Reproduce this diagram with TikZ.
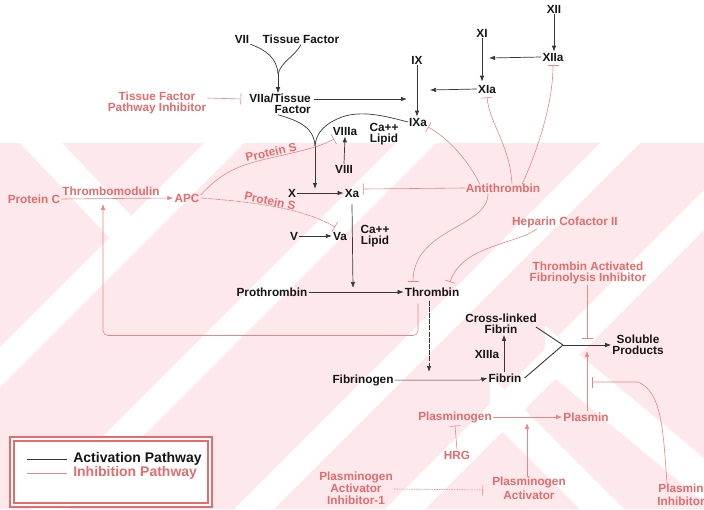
\documentclass[tikz,border=0pt]{standalone}
\usepackage{fontspec}
\setmainfont{Liberation Sans}
\usetikzlibrary{arrows.meta,calc}
\definecolor{bgpink}{RGB}{253,233,236}
\definecolor{txtred}{RGB}{228,108,108}
\definecolor{linered}{RGB}{230,135,135}
\definecolor{ink}{RGB}{22,22,22}
\definecolor{lineink}{RGB}{55,55,55}
\begin{document}
\begin{tikzpicture}[x=1pt,y=-1pt,
  lbl/.style={font=\fontsize{11.8}{10.5}\selectfont\bfseries, text=ink, inner sep=1pt, align=center},
  rlbl/.style={lbl, text=txtred},
  act/.style={draw=lineink, line width=0.7pt},
  actarr/.style={act, -{Latex[length=6pt,width=4.5pt]}},
  inh/.style={draw=linered, line width=0.6pt},
  inharr/.style={inh, -{Latex[length=6pt,width=4.5pt]}},
  inhbar/.style={inh, -{Bar[width=11pt]}},
]
\useasboundingbox (0,0) rectangle (704,509);

% ---- background band with white diagonal stripes
\fill[white] (0,0) rectangle (704,509);
\begin{scope}
  \clip (0,143) rectangle (704,509);
  \fill[bgpink] (0,143) rectangle (704,509);
  \foreach \c in {-142,50,254,405}{
    \fill[white] (\c-20,509) -- (\c+20,509) -- (\c+386,143) -- (\c+346,143) -- cycle;
  }
  \fill[white] (20,143) -- (62,143) -- (140,225) -- (118,247) -- cycle;
  \fill[white] (545,326) -- (704,458) -- (704,502) -- (545,370) -- cycle;
  \fill[white] (490,375) -- (624,509) -- (580,509) -- (490,419) -- cycle;
\end{scope}

% ---- extrinsic / intrinsic activation
\node[lbl] (XII) at (554,9) {XII};
\node[lbl] (XIIa) at (553,57) {XIIa};
\node[lbl] (XI) at (482,33) {XI};
\node[lbl] (XIa) at (487,89) {XIa};
\node[lbl] (IX) at (417,60) {IX};
\node[lbl] (IXa) at (418,122) {IXa};
\node[lbl] (VII) at (242,39) {VII};
\node[lbl] (TF) at (301,39) {Tissue Factor};
\node[lbl, anchor=east, align=right] (VIIaTF) at (312,104) {VIIa/Tissue\\Factor};
\node[rlbl] (TFPI) at (157,103) {Tissue Factor\\Pathway Inhibitor};
\node[lbl] (VIIIa) at (345,131) {VIIIa};
\node[lbl] (CaL1) at (384,134) {Ca++\\Lipid};
\node[lbl] (VIII) at (344,169) {VIII};
\node[lbl] (X) at (292,193) {X};
\node[lbl] (Xa) at (352,193) {Xa};
\node[lbl] (V) at (294,236) {V};
\node[lbl] (Va) at (340,236) {Va};
\node[lbl] (CaL2) at (375,236) {Ca++\\Lipid};
\node[lbl] (Prothrombin) at (272,292) {Prothrombin};
\node[lbl] (Thrombin) at (432,292) {Thrombin};
\node[lbl] (Fibrinogen) at (363,380) {Fibrinogen};
\node[lbl] (Fibrin) at (505,378) {Fibrin};
\node[lbl] (XLFibrin) at (501,324) {Cross-linked\\Fibrin};
\node[lbl] (XIIIa) at (487,354) {XIIIa};
\node[lbl] (Soluble) at (638,345) {Soluble\\Products};

% ---- inhibitory factors
\node[rlbl] (ProteinC) at (34,199) {Protein C};
\node[rlbl] (APC) at (187,198) {APC};
\node[rlbl] (Antithrombin) at (503,188) {Antithrombin};
\node[rlbl] (Heparin) at (565,222) {Heparin Cofactor II};
\node[rlbl] (TAFI) at (588,273) {Thrombin Activated\\Fibrinolysis Inhibitor};
\node[rlbl] (Plasminogen) at (455,417) {Plasminogen};
\node[rlbl] (Plasmin) at (586,417) {Plasmin};
\node[rlbl] (HRG) at (457,455) {HRG};
\node[rlbl, font=\fontsize{11.8}{14}\selectfont\bfseries] (PA) at (529,488) {Plasminogen\\Activator};
\node[rlbl, font=\fontsize{11.8}{12}\selectfont\bfseries] (PAI) at (356,488) {Plasminogen\\Activator\\Inhibitor-1};
\node[rlbl, font=\fontsize{11.8}{13}\selectfont\bfseries] (PlInh) at (681,495) {Plasmin\\Inhibitor};

% ---- junction points on other connectors
\coordinate (xiMid) at (489,58);
\coordinate (ixMid) at (430,90);
\coordinate (ixIn) at (407,99);
\coordinate (tfJoin) at (278,74);
\coordinate (xJoin) at (315,146);
\coordinate (xIn) at (315,189);
\coordinate (thrIn) at (353,288);
\coordinate (fibIn) at (429,372);
\coordinate (yV) at (563,345);
\coordinate (tafiBar) at (587,339);
\coordinate (plIn) at (587,351);
\coordinate (plBar) at (592,382);
\coordinate (paIn) at (527,423);
\coordinate (tmIn) at (103,204);
\coordinate (xaBar) at (363,189);
\coordinate (ixaBar) at (428,127);
\coordinate (thrBar1) at (413,282);
\coordinate (thrBar2) at (450,282);
\coordinate (viiiBar) at (334,139);
\coordinate (vaBar) at (335,227);

% ---- activation connectors
\draw[actarr] (XII.south) -- (XIIa.north -| XII.south);
\draw[actarr] (XI.south) -- ([yshift=2pt]XIa.north -| XI.south);
\draw[actarr] (XIIa.west) -- (xiMid);
\draw[actarr] (IX.south) -- (IXa.north -| IX.south);
\draw[actarr] (XIa.west) -- (ixMid);
\draw[actarr] ([xshift=2pt]VIIaTF.east |- ixIn) -- (ixIn);
\draw[act] (VII.south east) .. controls (266,50) and (277,58) .. (tfJoin);
\draw[act] (TF.south) .. controls (296,55) and (281,62) .. (tfJoin);
\draw[actarr] (tfJoin) -- (tfJoin |- VIIaTF.north);
\draw[act] ([xshift=-2pt]VIIaTF.south) .. controls (300,121) and (314,128) .. (xJoin);
\draw[act] (IXa.west) .. controls (385,116) and (362,110) .. (342,117)
  .. controls (326,123) and (316,132) .. (xJoin);
\draw[actarr, line width=0.9pt] (xJoin) -- (xIn);
\draw[actarr] (VIII.north) -- (VIIIa.south);
\draw[actarr] (X.east) -- (Xa.west);
\draw[actarr] (V.east) -- (Va.west);
\draw[actarr] ([yshift=-6pt]Xa.south) -- (thrIn);
\draw[actarr, line width=0.5pt] (Prothrombin.east) -- (Thrombin.west);
\draw[actarr, dash pattern=on 5pt off 1.2pt] ([xshift=-3pt,yshift=-3pt]Thrombin.south) -- (fibIn);
\draw[actarr, line width=0.5pt] (Fibrinogen.east) -- ++(85,0) -- (Fibrin.west);
\draw[actarr] (Fibrin.north -| 504,0) -- (XLFibrin.south -| 504,0);
\draw[act, line width=0.9pt] ([xshift=-2pt,yshift=-3pt]XLFibrin.east) -- (yV);
\draw[act, line width=0.9pt] ([xshift=2pt]Fibrin.east) -- (yV);
\draw[actarr] (yV) -- (Soluble.west);

% ---- inhibition connectors
\draw[inhbar] ([yshift=5pt]TFPI.east) -- ([xshift=-7pt,yshift=5pt]VIIaTF.west);
\draw[inharr] (ProteinC.east) -- (APC.west);
\node[rlbl, anchor=south] (TM) at (111,197) {Thrombomodulin};
\draw[inharr, rounded corners=5pt] ([xshift=-14pt,yshift=-6pt]Thrombin.south) -- ++(0,32) -| (tmIn);
\draw[inhbar] ([yshift=3pt]APC.east) .. controls (215,180) and (228,168) .. (262,160)
  .. controls (296,152) and (318,148) .. (viiiBar);
\node[rlbl, rotate=13] (PS1) at (271,152) {Protein S};
\draw[inhbar, dash pattern=on 6pt off 1pt] (APC.east) .. controls (240,201) and (300,206) .. (vaBar);
\node[rlbl, rotate=-12] (PS2) at (270,201) {Protein S};
\draw[inhbar] (Antithrombin.west) -- (xaBar);
\draw[inhbar] ([xshift=-23pt,yshift=-2pt]Antithrombin.north) .. controls (468,160) and (448,138) .. (ixaBar);
\draw[inhbar] ([xshift=9pt,yshift=-2pt]Antithrombin.north) .. controls (510,145) and (490,125) .. ([yshift=-3pt]XIa.south);
\draw[inhbar] ([xshift=19pt,yshift=-2pt]Antithrombin.north) .. controls (540,145) and (553,100) .. ([yshift=-3pt]XIIa.south);
\draw[inhbar] ([xshift=-15pt]Antithrombin.south) .. controls (488,228) and (413,228) .. (thrBar1);
\draw[inhbar] ([xshift=-28pt]Heparin.south) .. controls (518,244) and (462,245) .. (thrBar2);
\draw[inhbar] (TAFI.south -| tafiBar) -- (tafiBar);
\draw[inharr] (Plasmin.north -| plIn) -- (plIn);
\draw[inhbar] ([xshift=-14pt]PlInh.north) .. controls (663,430) and (662,392) .. (638,382) -- (plBar);
\draw[inharr] (Plasminogen.east) -- (Plasmin.west);
\draw[inhbar] (HRG.north) -- ([yshift=-2pt]Plasminogen.south);
\draw[inharr] ([yshift=-2pt]PA.north -| paIn) -- (paIn);
\draw[inhbar, dash pattern=on 1.5pt off 1pt] ([yshift=-1pt]PAI.east) -- ([xshift=-8pt,yshift=-2pt]PA.west);

% ---- legend
\node[draw=txtred, line width=2.2pt, double=white, double distance=1.4pt,
      fill=white, minimum width=198pt, minimum height=66pt] (legend) at (111,472) {};
\coordinate (legA) at (27,459);
\coordinate (legI) at (27,473);
\draw[act] (legA) -- ++(40,0) node[lbl, font=\fontsize{14}{14}\selectfont\bfseries, anchor=west, inner sep=6pt] (legAt) {Activation Pathway};
\draw[inh] (legI) -- ++(40,0) node[rlbl, font=\fontsize{14}{14}\selectfont\bfseries, anchor=west, inner sep=6pt] (legIt) {Inhibition Pathway};
\end{tikzpicture}
\end{document}
